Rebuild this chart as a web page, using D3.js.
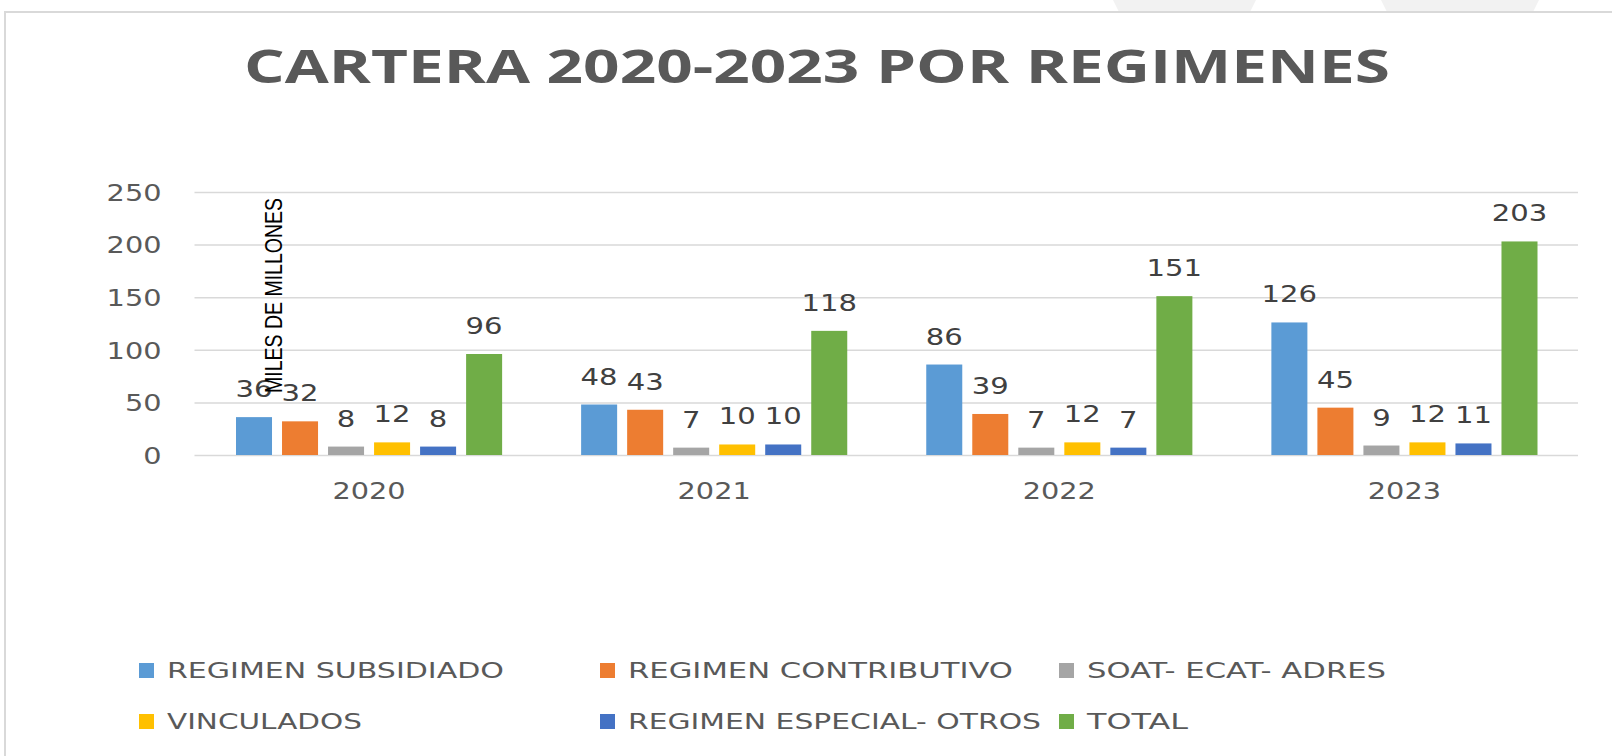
<!DOCTYPE html>
<html>
<head>
<meta charset="utf-8">
<script src="https://cdn.jsdelivr.net/npm/d3@7"></script>
<style>
  html, body { margin: 0; padding: 0; background: #fff; }
  svg { display: block; }
</style>
</head>
<body>
<div id="chart"></div>
<script>
// ----- Data -----
const years = ["2020", "2021", "2022", "2023"];
const seriesNames = [
  "REGIMEN SUBSIDIADO",
  "REGIMEN CONTRIBUTIVO",
  "SOAT- ECAT- ADRES",
  "VINCULADOS",
  "REGIMEN ESPECIAL- OTROS",
  "TOTAL"
];
const subsidiado   = [36, 48, 86, 126];
const contributivo = [32, 43, 39, 45];
const soat         = [8, 7, 7, 9];
const vinculados   = [12, 10, 12, 12];
const especial     = [8, 10, 7, 11];
const total        = [96, 118, 151, 203];
const yTicks = [0, 50, 100, 150, 200, 250];

const seriesValues = [subsidiado, contributivo, soat, vinculados, especial, total];
const colors = ["#5B9BD5", "#ED7D31", "#A5A5A5", "#FFC000", "#4472C4", "#70AD47"];

// ----- Layout -----
const W = 1612, H = 756;
const plot = { left: 196.5, right: 1577, top: 192, bottom: 455 };
const textColor = "#595959";
const digitW = 18.3; // glyphs in the original look stretched wide

const svg = d3.select("#chart").append("svg")
  .attr("width", W)
  .attr("height", H);

// faint background shapes above the frame
svg.append("g").selectAll("polygon")
  .data([[1113, 1256, 1119, 1250], [1381, 1539, 1387, 1533]])
  .join("polygon")
  .attr("points", d => `${d[0]},0 ${d[1]},0 ${d[3]},12 ${d[2]},12`)
  .attr("fill", "#F2F2F2");

// frame
svg.append("path")
  .attr("d", `M5,${H} L5,12 L${W},12`)
  .attr("fill", "none")
  .attr("stroke", "#D9D9D9")
  .attr("stroke-width", 2);

// title
svg.append("text")
  .attr("x", 244)
  .attr("y", 83)
  .attr("fill", textColor)
  .attr("font-family", "'Open Sans', 'DejaVu Sans', sans-serif")
  .attr("font-weight", 700)
  .attr("font-size", 47)
  .attr("textLength", 1146)
  .attr("lengthAdjust", "spacingAndGlyphs")
  .text("CARTERA 2020-2023 POR REGIMENES");

// ----- Scales -----
const x0 = d3.scaleBand()
  .domain(years)
  .range([plot.left, plot.right])
  .padding(0);

const x1 = d3.scaleBand()
  .domain(d3.range(seriesNames.length))
  .range([39.5, x0.bandwidth() - 39.5])
  .paddingInner(10 / 46)
  .paddingOuter(0);

const y = d3.scaleLinear()
  .domain([0, 250])
  .range([plot.bottom, plot.top]);

// ----- Gridlines + y tick labels -----
const yAxisG = svg.append("g")
  .attr("transform", `translate(${plot.left - 2},0)`)
  .call(d3.axisLeft(y).tickValues(yTicks).tickSize(-(plot.right - plot.left + 3)).tickPadding(33));
yAxisG.select(".domain").remove();
yAxisG.selectAll("line")
  .attr("stroke", "#D9D9D9")
  .attr("stroke-width", 1.5);
yAxisG.selectAll("text")
  .attr("fill", textColor)
  .attr("font-family", "'DejaVu Sans', sans-serif")
  .attr("font-size", 23)
  .attr("dy", "0.36em")
  .attr("textLength", d => String(d).length * digitW)
  .attr("lengthAdjust", "spacingAndGlyphs");

// ----- x labels -----
svg.append("g").selectAll("text")
  .data(years)
  .join("text")
  .attr("x", d => x0(d) + x0.bandwidth() / 2)
  .attr("y", 499)
  .attr("text-anchor", "middle")
  .attr("fill", textColor)
  .attr("font-family", "'DejaVu Sans', sans-serif")
  .attr("font-size", 23)
  .attr("textLength", d => d.length * digitW)
  .attr("lengthAdjust", "spacingAndGlyphs")
  .text(d => d);

// ----- Bars -----
const groups = svg.append("g").selectAll("g")
  .data(years)
  .join("g")
  .attr("transform", d => `translate(${x0(d)},0)`);

const cells = (d, yi) => seriesValues.map((vals, si) => ({ si, v: vals[yi] }));

groups.selectAll("rect")
  .data((d, i) => cells(d, i))
  .join("rect")
  .attr("x", d => x1(d.si))
  .attr("width", x1.bandwidth())
  .attr("y", d => y(d.v))
  .attr("height", d => y(0) - y(d.v))
  .attr("fill", d => colors[d.si]);

// data labels
groups.selectAll("text")
  .data((d, i) => cells(d, i))
  .join("text")
  .attr("x", d => x1(d.si) + x1.bandwidth() / 2)
  .attr("y", d => y(d.v) - 20)
  .attr("text-anchor", "middle")
  .attr("fill", "#404040")
  .attr("font-family", "'DejaVu Sans', sans-serif")
  .attr("font-size", 23)
  .attr("textLength", d => String(d.v).length * 18.5)
  .attr("lengthAdjust", "spacingAndGlyphs")
  .text(d => d.v);

// ----- y axis title -----
svg.append("text")
  .attr("transform", "translate(282,393) rotate(-90)")
  .attr("fill", "#000")
  .attr("font-family", "'Liberation Sans', 'Open Sans', sans-serif")
  .attr("font-size", 24)
  .attr("textLength", 195)
  .attr("lengthAdjust", "spacingAndGlyphs")
  .text("MILES DE MILLONES");

// ----- Legend -----
const legendX = [139, 600, 1059];
const legendY = [670, 721];
const legendW = [337, 385, 299, 195, 413, 101];

const legend = svg.append("g").selectAll("g")
  .data(seriesNames)
  .join("g")
  .attr("transform", (d, i) => `translate(${legendX[i % 3]},${legendY[Math.floor(i / 3)]})`);

legend.append("rect")
  .attr("x", 0)
  .attr("y", -7)
  .attr("width", 15)
  .attr("height", 15)
  .attr("fill", (d, i) => colors[i]);

legend.append("text")
  .attr("x", 28)
  .attr("y", 0)
  .attr("dy", "0.36em")
  .attr("fill", textColor)
  .attr("font-family", "'DejaVu Sans', sans-serif")
  .attr("font-size", 22)
  .attr("textLength", (d, i) => legendW[i])
  .attr("lengthAdjust", "spacingAndGlyphs")
  .text(d => d);
</script>
</body>
</html>
